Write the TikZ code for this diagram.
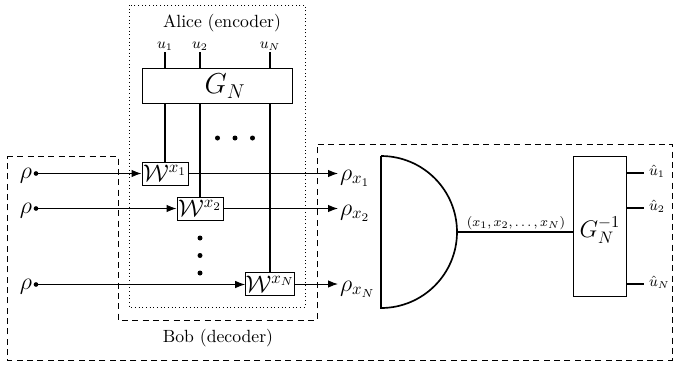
\documentclass[tikz,border=0pt]{standalone}
\usetikzlibrary{arrows.meta}
\begin{document}
\begin{tikzpicture}[x=0.6pt,y=-0.6pt,
  box/.style={draw,line width=0.6pt,inner sep=0.5pt},
  wbox/.style={box,minimum width=27.6pt,minimum height=13.8pt,font=\Large,inner sep=0pt},
  wire/.style={line width=0.9pt},
  arr/.style={line width=0.6pt,-{Latex[length=6pt,width=4.5pt]}},
  dashbox/.style={line width=0.6pt,dash pattern=on 3.6pt off 2.6pt},
  dotbox/.style={line width=0.6pt,dash pattern=on 0.6pt off 1.6pt},
  lbl/.style={inner sep=1pt},
  dotmark/.style={fill,circle,inner sep=0pt,minimum size=3pt}]
\useasboundingbox (0,0) rectangle (673,364);
% Alice dotted box
\draw[dotbox] (129,5) rectangle (305,307);
\node[font=\fontsize{10.6}{12}\selectfont] (alice) at (222,23) {Alice (encoder)};
% Bob dashed region
\draw[dashbox] (7,156) -- (118,156) -- (118,320) -- (317,320) -- (317,144)
  -- (672,144) -- (672,360) -- (7,360) -- cycle;
\node[font=\fontsize{10.6}{12}\selectfont] (bob) at (218,338) {Bob (decoder)};
% G_N box
\node[box,minimum width=90.6pt,minimum height=21pt] (GN) at (217.5,85.5) {};
\node[font=\LARGE] (GNtext) at (225,86) {$G_N$};
% u labels
\node[lbl,anchor=south,font=\small] (u1) at (165,52) {$u_1$};
\node[lbl,anchor=south,font=\small] (u2) at (200,52) {$u_2$};
\node[lbl,anchor=south,font=\small] (uN) at (270,52) {$u_N$};
\draw[wire] (u1.south) -- (u1.south |- GN.north);
\draw[wire] (u2.south) -- (u2.south |- GN.north);
\draw[wire] (uN.south) -- (uN.south |- GN.north);
% W boxes
\node[wbox] (W1) at (165,173.5) {$\mathcal{W}^{x_1}$};
\node[wbox] (W2) at (200,208.5) {$\mathcal{W}^{x_2}$};
\node[wbox] (WN) at (270,284) {$\mathcal{W}^{x_N}$};
\draw[wire] (W1.north |- GN.south) -- (W1.north);
\draw[wire] (W2.north |- GN.south) -- (W2.north);
\draw[wire] (WN.north |- GN.south) -- (WN.north);
% dots
\node[dotmark] (h1) at (217.5,138) {};
\node[dotmark] (h2) at (235,138) {};
\node[dotmark] (h3) at (252.5,138) {};
\node[dotmark] (v1) at (200,238) {};
\node[dotmark] (v2) at (200,255.5) {};
\node[dotmark] (v3) at (200,273) {};
% input rhos
\node[lbl,font=\Large] (r1) at (26,175.5) {$\rho$};
\node[lbl,font=\Large] (r2) at (26,210.5) {$\rho$};
\node[lbl,font=\Large] (rN) at (26,286.5) {$\rho$};
\node[circle,fill,inner sep=0pt,minimum size=2.8pt] (d1) at (36,173.5) {};
\node[circle,fill,inner sep=0pt,minimum size=2.8pt] (d2) at (36,208.5) {};
\node[circle,fill,inner sep=0pt,minimum size=2.8pt] (dN) at (36,284.5) {};
\draw[arr] (d1.center) -- (d1.center -| W1.west);
\draw[arr] (d2.center) -- (d2.center -| W2.west);
\draw[arr] (dN.center) -- (dN.center -| WN.west);
% output rhos
\node[lbl,anchor=west,font=\Large] (rx1) at (338,178) {$\rho_{x_1}$};
\node[lbl,anchor=west,font=\Large] (rx2) at (338,213) {$\rho_{x_2}$};
\node[lbl,anchor=west,font=\Large] (rxN) at (338,289) {$\rho_{x_N}$};
\draw[arr] (W1.east) -- (W1.east -| rx1.west);
\draw[arr] (W2.east) -- (W2.east -| rx2.west);
\draw[arr] (WN.east) -- (WN.east -| rxN.west);
% measurement
\draw[line width=1pt] (381,156) -- (381,308) arc[start angle=-90,end angle=90,radius=45.6pt];
\coordinate (measE) at (457,232);
% G inverse
\node[box,minimum width=31.8pt,minimum height=84pt] (Gi) at (599.5,226) {};
\node[font=\Large] (Gitext) at (600,230) {$G_N^{-1}$};
\draw[line width=1pt] (measE) -- (measE -| Gi.west);
\node[font=\fontsize{8.4}{10}\selectfont] (xlab) at (516,223) {$(x_1,x_2,\ldots,x_N)$};
% outputs
\coordinate (o1) at (644,173);
\coordinate (o2) at (644,208);
\coordinate (oN) at (644,284);
\draw[wire] (o1 -| Gi.east) -- (o1);
\draw[wire] (o2 -| Gi.east) -- (o2);
\draw[wire] (oN -| Gi.east) -- (oN);
\node[lbl,anchor=west,font=\small] (h1o) at (647,171) {$\hat u_1$};
\node[lbl,anchor=west,font=\small] (h2o) at (647,206) {$\hat u_2$};
\node[lbl,anchor=west,font=\small] (hNo) at (647,282) {$\hat u_N$};
\end{tikzpicture}
\end{document}
